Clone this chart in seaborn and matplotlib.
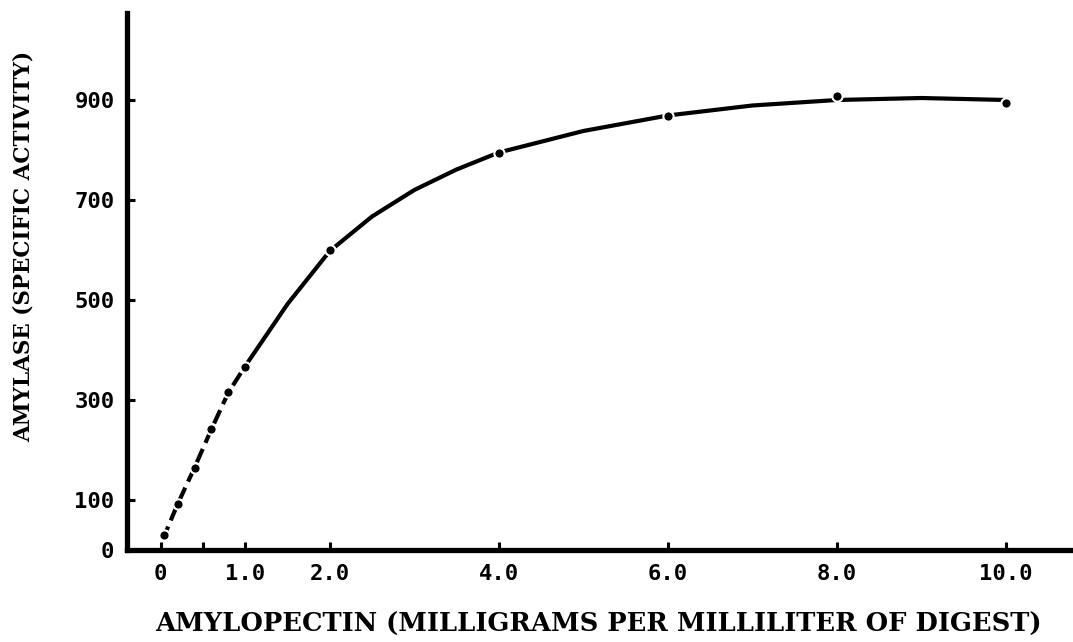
import numpy as np
import pandas as pd
import matplotlib
matplotlib.use("Agg")
import matplotlib.pyplot as plt
import seaborn as sns

# --- data ---
conc = [0.04, 0.2, 0.4, 0.6, 0.8, 1.0, 2.0, 4.0, 6.0, 8.0, 10.0]
activity = [30, 92, 165, 242, 317, 367, 600, 795, 869, 908, 894]

# hand-drawn fitted curve
curve_x = [0.02, 0.2, 0.4, 0.6, 0.8, 1.0, 1.5, 2.0, 2.5, 3.0, 3.5, 4.0,
           5.0, 6.0, 7.0, 8.0, 9.0, 10.0]
curve_y = [20, 92, 165, 242, 315, 368, 492, 598, 667, 720, 761, 795,
           838, 869, 889, 900, 904, 900]

xticks = [0, 0.5, 1.0, 2.0, 4.0, 6.0, 8.0, 10.0]
xtick_labels = ["0", "", "1.0", "2.0", "4.0", "6.0", "8.0", "10.0"]
yticks = [0, 100, 300, 500, 700, 900]
ytick_labels = ["0", "100", "300", "500", "700", "900"]

sns.set_style("ticks")
plt.rcParams["font.family"] = ["DejaVu Serif", "Liberation Serif"]
plt.rcParams["text.color"] = "black"
plt.rcParams["axes.labelcolor"] = "black"
plt.rcParams["xtick.color"] = "black"
plt.rcParams["ytick.color"] = "black"

fig = plt.figure(figsize=(10.73, 6.42), dpi=100)
ax = fig.add_axes([127 / 1073, 92 / 642, 943 / 1073, 537 / 642])

curve = pd.DataFrame({"x": curve_x, "y": curve_y})
pts = pd.DataFrame({"x": conc, "y": activity})

# dashed portion near origin, solid afterwards
sns.lineplot(data=curve.iloc[:6], x="x", y="y", ax=ax, color="black",
             linewidth=3.0, sort=False)
ax.lines[-1].set_linestyle((0, (3.5, 1.6)))
sns.lineplot(data=curve.iloc[5:], x="x", y="y", ax=ax, color="black",
             linewidth=3.0, sort=False)

sns.scatterplot(data=pts, x="x", y="y", ax=ax, color="black", s=55,
                edgecolor="white", linewidth=1.5, zorder=5)

ax.set_xlim(-0.40, 10.76)
ax.set_ylim(0, 1074)

sns.despine(ax=ax)
for side in ["left", "bottom"]:
    ax.spines[side].set_linewidth(3.8)
    ax.spines[side].set_color("black")

mono = ["DejaVu Sans Mono", "Liberation Mono"]
ax.set_xticks(xticks)
ax.set_xticklabels(xtick_labels, family=mono, fontweight="bold", fontsize=16,
                   color="black")
ax.set_yticks(yticks)
ax.set_yticklabels(ytick_labels, family=mono, fontweight="bold", fontsize=16,
                   color="black")
ax.tick_params(axis="both", direction="in", length=6, width=2.2,
               color="black", labelcolor="black")
ax.tick_params(axis="x", pad=10)
ax.tick_params(axis="y", pad=9)

ax.set_xlabel("AMYLOPECTIN (MILLIGRAMS PER MILLILITER OF DIGEST)",
              fontsize=18.5, fontweight="bold", labelpad=20, color="black")
ax.set_ylabel("AMYLASE (SPECIFIC ACTIVITY)", fontsize=15.5, fontweight="bold",
              color="black")
ax.yaxis.set_label_coords(-0.098, 0.565)

fig.savefig("out.png", dpi=100, facecolor="white")
